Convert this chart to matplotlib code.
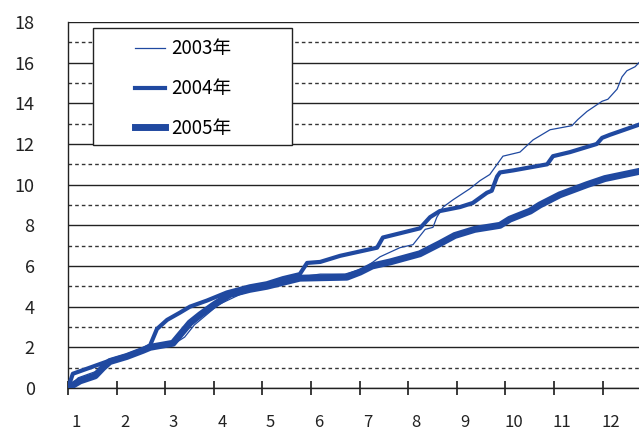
import matplotlib
matplotlib.use("Agg")
import matplotlib.pyplot as plt
from matplotlib.patches import Rectangle

plt.rcParams['font.family'] = ['Noto Sans CJK JP', 'DejaVu Sans']

# x: position in months from the start of January (0 = Jan 1)
x_2003 = [0, 0.21, 0.56, 0.86, 1.28, 1.69, 2.0, 2.2, 2.4, 2.6, 2.85, 3.1, 3.54,
          4.05, 4.57, 5.19, 5.70, 6.11, 6.42, 6.83, 7.10, 7.35, 7.51, 7.59, 7.72,
          7.92, 8.27, 8.48, 8.68, 8.95, 9.30, 9.57, 9.92, 10.37, 10.49, 10.68,
          10.99, 11.11, 11.30, 11.40, 11.50, 11.67, 11.75]
y_2003 = [0, 0.5, 0.8, 1.2, 1.55, 1.9, 2.05, 2.2, 2.5, 3.1, 3.6, 4.1, 4.6,
          5.0, 5.4, 5.6, 5.6, 5.9, 6.45, 6.9, 7.05, 7.8, 7.9, 8.4, 8.9,
          9.25, 9.8, 10.2, 10.5, 11.4, 11.6, 12.2, 12.7, 12.9, 13.2, 13.6,
          14.1, 14.2, 14.7, 15.3, 15.6, 15.8, 16.0]

x_2004 = [0, 0.10, 0.51, 0.86, 1.21, 1.54, 1.69, 1.83, 2.04, 2.30, 2.51, 2.86,
          3.27, 3.74, 4.09, 4.42, 4.77, 4.92, 5.19, 5.60, 6.36, 6.48, 7.24,
          7.45, 7.65, 8.07, 8.33, 8.62, 8.72, 8.83, 8.89, 9.16, 9.51, 9.86,
          9.98, 10.33, 10.88, 10.99, 11.15, 11.75]
y_2004 = [0, 0.7, 1.05, 1.35, 1.6, 1.9, 2.1, 2.9, 3.35, 3.7, 4.0, 4.3,
          4.7, 5.0, 5.15, 5.4, 5.6, 6.15, 6.2, 6.5, 6.9, 7.4, 7.85,
          8.4, 8.7, 8.9, 9.1, 9.6, 9.7, 10.4, 10.6, 10.7, 10.85, 11.0,
          11.4, 11.6, 12.0, 12.3, 12.45, 12.95]

x_2005 = [0, 0.25, 0.56, 0.72, 0.86, 1.21, 1.54, 1.69, 2.04, 2.16, 2.30, 2.51,
          2.72, 2.98, 3.33, 3.74, 4.09, 4.77, 5.74, 6.01, 6.26, 6.63, 7.24,
          7.65, 7.96, 8.37, 8.89, 9.09, 9.51, 9.71, 10.12, 10.68, 11.05, 11.75]
y_2005 = [0, 0.35, 0.6, 1.0, 1.3, 1.55, 1.85, 2.0, 2.15, 2.2, 2.6, 3.2,
          3.6, 4.05, 4.6, 4.85, 5.0, 5.4, 5.45, 5.7, 6.0, 6.2, 6.6,
          7.1, 7.5, 7.8, 8.0, 8.3, 8.7, 9.0, 9.5, 10.0, 10.3, 10.65]

month_labels = [str(m) for m in range(1, 13)]
blue = '#2049a0'

fig = plt.figure(figsize=(6.39, 4.30), dpi=100)
ax = fig.add_axes([0.1064, 0.0977, 0.8936, 0.8512])

ax.plot(x_2003, y_2003, color=blue, lw=0.9, label='2003年', zorder=3)
ax.plot(x_2004, y_2004, color=blue, lw=3.0, label='2004年', zorder=3)
ax.plot(x_2005, y_2005, color=blue, lw=5.0, label='2005年', zorder=3)

ax.set_xlim(0, 11.75)
ax.set_ylim(0, 18)

# y axis: solid grid at even values, dashed at odd values
ax.set_yticks(range(0, 19, 2))
ax.set_yticks(range(1, 18, 2), minor=True)
ax.yaxis.grid(True, which='major', color='#222222', lw=1.0, zorder=1)
ax.yaxis.grid(True, which='minor', color='#333333', lw=1.0, ls=(0, (2.6, 2.2)),
              zorder=1)
ax.tick_params(axis='y', which='both', length=0, pad=24, labelsize=13,
               labelcolor='#222222')

# x axis: tick marks at month boundaries, labels slightly to the right
ax.set_xticks(range(0, 12))
ax.set_xticklabels([])
ax.tick_params(axis='x', which='major', direction='inout', length=10,
               width=1.2, color='#1a1a1a')
ax.set_xticks([k + 0.165 for k in range(12)], minor=True)
ax.set_xticklabels(month_labels, minor=True)
ax.tick_params(axis='x', which='minor', length=0, pad=19, labelsize=12,
               labelcolor='#222222')

for s in ['top', 'right']:
    ax.spines[s].set_visible(False)
for s in ['left', 'bottom']:
    ax.spines[s].set_color('#222222')
    ax.spines[s].set_linewidth(1.0)

# legend box
ax.add_patch(Rectangle((0.0438, 0.664), 0.3485, 0.3196, transform=ax.transAxes,
                       facecolor='white', edgecolor='#222222', lw=1.0, zorder=4))
leg = ax.legend(loc='center left', bbox_to_anchor=(0.117, 0.818), frameon=False,
                borderpad=0, borderaxespad=0, handlelength=1.6,
                handletextpad=0.35, labelspacing=1.0, fontsize=13.5)
leg.set_zorder(5)

fig.savefig('out.png', dpi=100)
